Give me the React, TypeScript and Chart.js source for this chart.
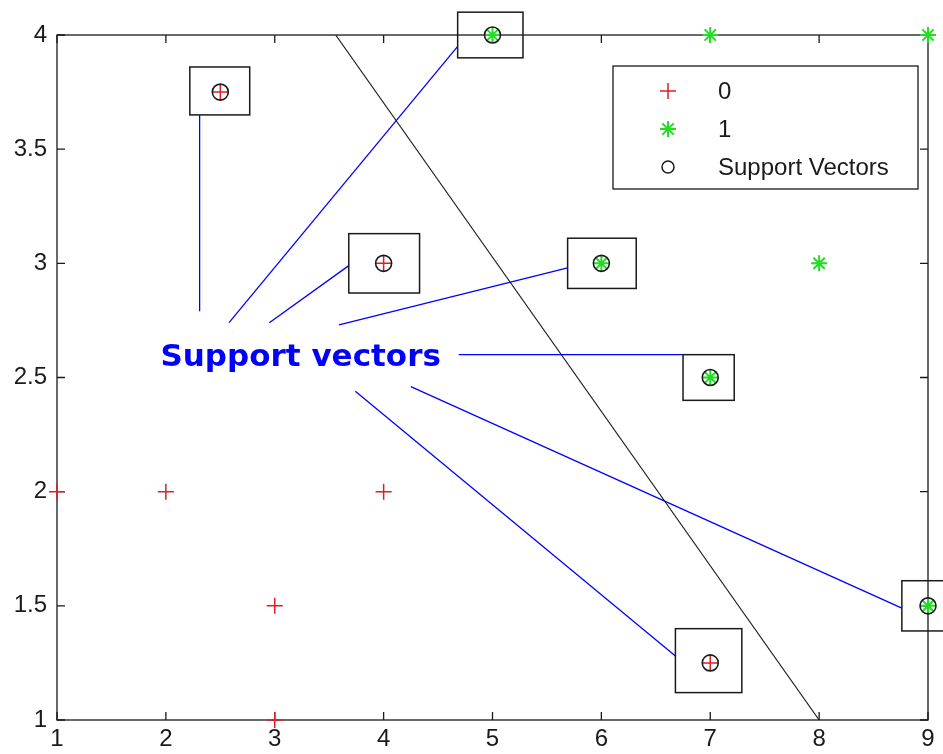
import React, { useEffect, useRef } from "react";
import { Chart, registerables } from "chart.js";

Chart.register(...registerables);

// Class 0 samples (red +)
const class0X = [1, 2, 3, 4, 3, 2.5, 4, 7];
const class0Y = [2, 2, 1.5, 2, 1, 3.75, 3, 1.25];
// Class 1 samples (green *)
const class1X = [5, 7, 9, 6, 8, 7, 9];
const class1Y = [4, 4, 4, 3, 3, 2.5, 1.5];
// Support vectors (black o)
const svX = [2.5, 4, 7, 5, 6, 7, 9];
const svY = [3.75, 3, 1.25, 4, 3, 2.5, 1.5];
// Separating line
const boundaryX = [3.56, 8];
const boundaryY = [4, 1];

// Callout boxes around each support vector (data units)
const boxXMin = [2.22, 4.68, 3.68, 5.69, 6.75, 6.68, 8.76];
const boxXMax = [2.77, 5.28, 4.33, 6.32, 7.22, 7.29, 9.24];
const boxYMin = [3.65, 3.9, 2.87, 2.89, 2.4, 1.12, 1.39];
const boxYMax = [3.86, 4.1, 3.13, 3.11, 2.6, 1.4, 1.61];

// Callout leader lines from the label to the boxes
const leadFromX = [2.31, 2.58, 2.95, 3.59, 4.69, 4.25, 3.74];
const leadFromY = [2.79, 2.74, 2.74, 2.73, 2.6, 2.46, 2.44];
const leadToX = [2.31, 4.68, 3.68, 5.69, 6.75, 8.76, 6.68];
const leadToY = [3.65, 3.95, 2.99, 2.98, 2.6, 1.49, 1.28];

const calloutText = "Support vectors";
const calloutX = 1.95;
const calloutY = 2.55;

const legendLabels = ["0", "1", "Support Vectors"];

const xTickValues = [1, 2, 3, 4, 5, 6, 7, 8, 9];
const yTickValues = [1, 1.5, 2, 2.5, 3, 3.5, 4];

const RED = "#d9202a";
const GREEN = "#22dd22";
const BLUE = "#0000ff";
const AXIS = "#1a1a1a";
const FONT = '"Liberation Sans", Arial, sans-serif';

const zip = (xs: number[], ys: number[]) => xs.map((x, i) => ({ x, y: ys[i] }));

function drawCross(ctx: CanvasRenderingContext2D, cx: number, cy: number, r: number) {
  ctx.beginPath();
  ctx.moveTo(cx - r, cy);
  ctx.lineTo(cx + r, cy);
  ctx.moveTo(cx, cy - r);
  ctx.lineTo(cx, cy + r);
  ctx.stroke();
}

function drawStar(ctx: CanvasRenderingContext2D, cx: number, cy: number, r: number) {
  drawCross(ctx, cx, cy, r);
  const d = r * Math.SQRT1_2;
  ctx.beginPath();
  ctx.moveTo(cx - d, cy - d);
  ctx.lineTo(cx + d, cy + d);
  ctx.moveTo(cx - d, cy + d);
  ctx.lineTo(cx + d, cy - d);
  ctx.stroke();
}

const overlayPlugin = {
  id: "svmOverlay",
  beforeDatasetsDraw(chart: any) {
    const { ctx, chartArea: a } = chart;
    const xs = chart.scales.x;
    const ys = chart.scales.y;
    ctx.save();
    ctx.strokeStyle = AXIS;
    ctx.lineWidth = 1.3;
    ctx.strokeRect(a.left, a.top, a.right - a.left, a.bottom - a.top);
    ctx.beginPath();
    const t = 8;
    xTickValues.forEach((v) => {
      const px = xs.getPixelForValue(v);
      ctx.moveTo(px, a.bottom);
      ctx.lineTo(px, a.bottom - t);
      ctx.moveTo(px, a.top);
      ctx.lineTo(px, a.top + t);
    });
    yTickValues.forEach((v) => {
      const py = ys.getPixelForValue(v);
      ctx.moveTo(a.left, py);
      ctx.lineTo(a.left + t, py);
      ctx.moveTo(a.right, py);
      ctx.lineTo(a.right - t, py);
    });
    ctx.stroke();
    ctx.restore();
  },
  afterDatasetsDraw(chart: any) {
    const { ctx, chartArea: a } = chart;
    const xs = chart.scales.x;
    const ys = chart.scales.y;
    ctx.save();

    // boxes around support vectors
    ctx.strokeStyle = AXIS;
    ctx.lineWidth = 1.5;
    boxXMin.forEach((x0, i) => {
      const l = xs.getPixelForValue(x0);
      const r = xs.getPixelForValue(boxXMax[i]);
      const t = ys.getPixelForValue(boxYMax[i]);
      const b = ys.getPixelForValue(boxYMin[i]);
      ctx.strokeRect(l, t, r - l, b - t);
    });

    // callout label
    ctx.fillStyle = BLUE;
    ctx.font = 'bold 31px "DejaVu Sans", Verdana, sans-serif';
    ctx.textAlign = "left";
    ctx.textBaseline = "alphabetic";
    ctx.fillText(calloutText, xs.getPixelForValue(calloutX), ys.getPixelForValue(calloutY));

    // legend box
    const lw = 305;
    const lh = 123;
    const lx = a.right - 10 - lw;
    const ly = a.top + 31;
    ctx.fillStyle = "#ffffff";
    ctx.fillRect(lx, ly, lw, lh);
    ctx.strokeStyle = AXIS;
    ctx.lineWidth = 1.3;
    ctx.strokeRect(lx, ly, lw, lh);

    const rows = [25, 63, 101];
    const mx = lx + 55;
    ctx.lineWidth = 1.5;
    ctx.strokeStyle = RED;
    drawCross(ctx, mx, ly + rows[0], 8);
    ctx.strokeStyle = GREEN;
    ctx.lineWidth = 2;
    drawStar(ctx, mx, ly + rows[1], 8);
    ctx.strokeStyle = AXIS;
    ctx.lineWidth = 1.5;
    ctx.beginPath();
    ctx.arc(mx, ly + rows[2], 6, 0, Math.PI * 2);
    ctx.stroke();

    ctx.fillStyle = "#1a1a1a";
    ctx.font = `24px ${FONT}`;
    ctx.textBaseline = "middle";
    legendLabels.forEach((lab, i) => {
      ctx.fillText(lab, lx + 105, ly + rows[i] + 1);
    });

    ctx.restore();
  },
};

export default function App() {
  const canvasRef = useRef<HTMLCanvasElement | null>(null);

  useEffect(() => {
    const canvas = canvasRef.current;
    if (!canvas) return;

    const leaders = leadFromX.map((x0, i) => ({
      type: "line" as const,
      data: [
        { x: x0, y: leadFromY[i] },
        { x: leadToX[i], y: leadToY[i] },
      ],
      borderColor: BLUE,
      borderWidth: 1.3,
      pointRadius: 0,
      showLine: true,
      clip: false as any,
    }));

    const chart = new Chart(canvas, {
      type: "scatter",
      data: {
        datasets: [
          {
            label: "Support Vectors",
            data: zip(svX, svY),
            pointStyle: "circle",
            pointRadius: 8,
            borderColor: AXIS,
            borderWidth: 1.6,
            backgroundColor: "rgba(0,0,0,0)",
            clip: false as any,
          },
          {
            label: "0",
            data: zip(class0X, class0Y),
            pointStyle: "cross",
            pointRadius: 8,
            borderColor: RED,
            borderWidth: 1.5,
            clip: false as any,
          },
          {
            label: "1",
            data: zip(class1X, class1Y),
            pointStyle: "star",
            pointRadius: 8,
            borderColor: GREEN,
            backgroundColor: GREEN,
            borderWidth: 2,
            clip: false as any,
          },
          {
            type: "line" as const,
            label: "boundary",
            data: zip(boundaryX, boundaryY),
            borderColor: AXIS,
            borderWidth: 1.2,
            pointRadius: 0,
            showLine: true,
            clip: false as any,
          },
          ...leaders,
        ] as any,
      },
      options: {
        responsive: false,
        animation: false,
        events: [],
        layout: { padding: { top: 35, right: 15, left: 0, bottom: 0 } },
        plugins: {
          legend: { display: false },
          tooltip: { enabled: false },
        },
        scales: {
          x: {
            type: "linear",
            min: 1,
            max: 9,
            grid: { display: false, drawTicks: false },
            border: { display: false },
            ticks: {
              stepSize: 1,
              padding: 5,
              color: "#1a1a1a",
              font: { family: FONT, size: 24 },
              maxRotation: 0,
              callback: (v: any) => String(Number(v)),
            },
            afterFit: (s: any) => {
              s.height = 34;
            },
          },
          y: {
            type: "linear",
            min: 1,
            max: 4,
            grid: { display: false, drawTicks: false },
            border: { display: false },
            ticks: {
              stepSize: 0.5,
              padding: 10,
              color: "#1a1a1a",
              font: { family: FONT, size: 24 },
              callback: (v: any) => String(Number(v)),
            },
            afterFit: (s: any) => {
              s.width = 57;
            },
          },
        },
      },
      plugins: [overlayPlugin],
    });

    return () => chart.destroy();
  }, []);

  return (
    <div style={{ position: "absolute", left: 0, top: 0, width: 943, height: 754, background: "#fff" }}>
      <canvas ref={canvasRef} width={943} height={754} />
    </div>
  );
}
